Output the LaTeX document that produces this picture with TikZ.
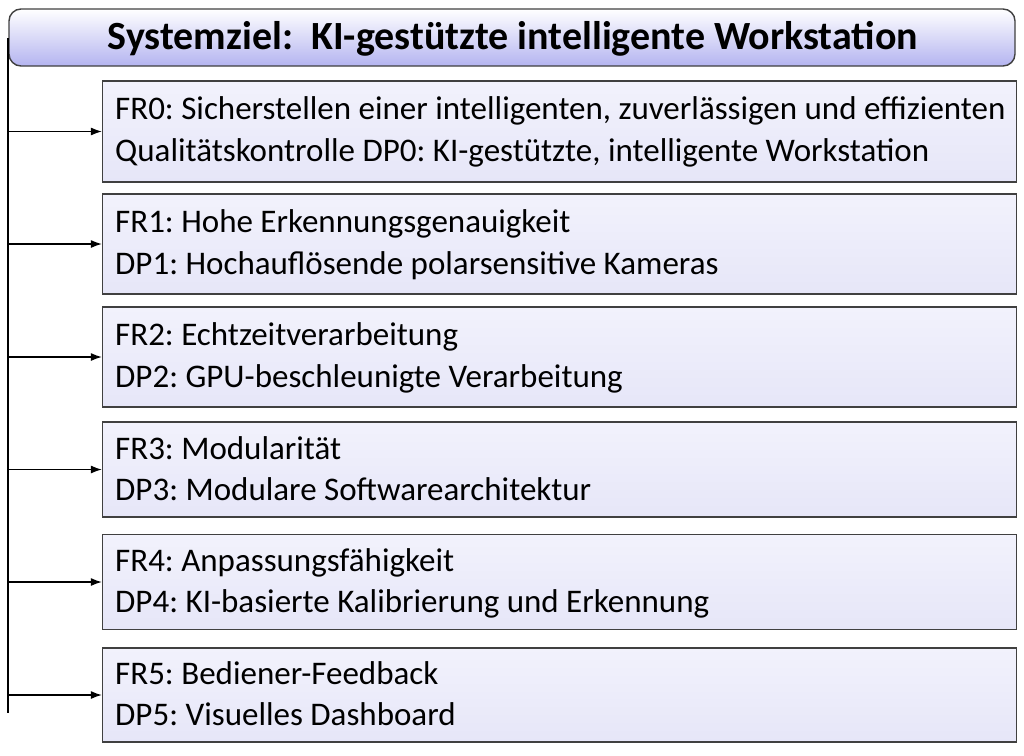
\documentclass[tikz,border=0pt]{standalone}
\usepackage{fontspec}
\setmainfont{Carlito}
\frenchspacing
\usetikzlibrary{arrows.meta}
\definecolor{edge}{HTML}{404040}
\definecolor{titlebot}{HTML}{B4B4F0}
\definecolor{boxtop}{HTML}{F2F2FC}
\definecolor{boxmid}{HTML}{F8F8FE}
\definecolor{boxbot}{HTML}{E6E6F8}
\tikzset{
  titlebox/.style={draw=edge, line width=1.4pt, rounded corners=12pt, top color=white, bottom color=titlebot, inner sep=0pt},
  reqbox/.style={draw=edge, line width=1.3pt, top color=boxtop, middle color=boxmid, bottom color=boxbot, inner sep=0pt, minimum width=914pt},
  reqtext/.style={anchor=base west, inner sep=0pt, font=\fontsize{33}{38}\selectfont},
  trunk/.style={line width=1.8pt, black},
  feed/.style={line width=1.2pt, -{Latex[length=11pt,width=8pt]}},
}
\begin{document}
\begin{tikzpicture}[x=1pt,y=-1pt]
\useasboundingbox (0,0) rectangle (1024,755);
\node[titlebox, minimum width=1006pt, minimum height=57pt] (title) at (512,37.5) {};
\node[anchor=base, inner sep=0pt, font=\fontsize{40}{44}\selectfont\bfseries] (tt) at (513,49) {Systemziel:\ \ KI-gestützte intelligente Workstation};
\coordinate (top) at (8,38);
\coordinate (bot) at (8,713);
\draw[trunk] (top) -- (bot);
% boxes
\node[reqbox, minimum height=101pt] (b0) at (559.5,131.5) {};
\node[reqbox, minimum height=100pt] (b1) at (559.5,244) {};
\node[reqbox, minimum height=100pt] (b2) at (559.5,357) {};
\node[reqbox, minimum height=95pt] (b3) at (559.5,469.5) {};
\node[reqbox, minimum height=95pt] (b4) at (559.5,582) {};
\node[reqbox, minimum height=94pt] (b5) at (559.5,695) {};
\node[reqtext] (f0) at (115,119) {FR0: Sicherstellen einer intelligenten, zuverlässigen und effizienten};
\node[reqtext] (d0) at (115,161) {Qualitätskontrolle DP0: KI-gestützte, intelligente Workstation};
\node[reqtext] (f1) at (115,232) {FR1: Hohe Erkennungsgenauigkeit};
\node[reqtext] (d1) at (115,274) {DP1: Hochauflösende polarsensitive Kameras};
\node[reqtext] (f2) at (115,345) {FR2: Echtzeitverarbeitung};
\node[reqtext] (d2) at (115,387) {DP2: GPU-beschleunigte Verarbeitung};
\node[reqtext] (f3) at (115,459) {FR3: Modularität};
\node[reqtext] (d3) at (115,500) {DP3: Modulare Softwarearchitektur};
\node[reqtext] (f4) at (115,571) {FR4: Anpassungsfähigkeit};
\node[reqtext] (d4) at (115,612) {DP4: KI-basierte Kalibrierung und Erkennung};
\node[reqtext] (f5) at (115,684) {FR5: Bediener-Feedback};
\node[reqtext] (d5) at (115,725) {DP5: Visuelles Dashboard};
\foreach \i in {0,...,5}{
  \draw[feed] (top |- b\i.west) -- (b\i.west);
}
\end{tikzpicture}
\end{document}
